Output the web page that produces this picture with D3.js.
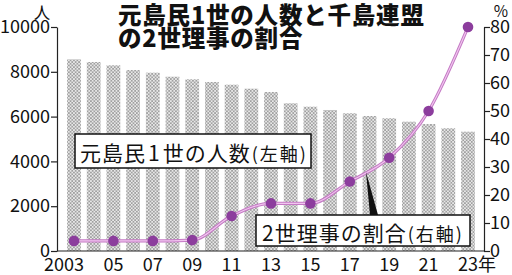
<!DOCTYPE html>
<html>
<head>
<meta charset="utf-8">
<script src="https://cdn.jsdelivr.net/npm/d3@7"></script>
<style>
  body { margin: 0; background: #fff; }
  svg { display: block; font-family: "Noto Sans CJK JP", sans-serif; }
  .axis text { font-size: 18px; fill: #111; font-family: "Noto Sans CJK JP", sans-serif; }
  .axis path, .axis line { stroke: #222; stroke-width: 1.2; }
</style>
</head>
<body>
<div id="main"></div>
<script>
// data
const years = d3.range(2003, 2024);
const islanders = [8558, 8438, 8290, 8080, 7960, 7781, 7665, 7545, 7424, 7246, 7098,
                   6594, 6442, 6295, 6147, 6027, 5924, 5772, 5670, 5478, 5326];
const ratioYears = [2003, 2005, 2007, 2009, 2011, 2013, 2015, 2017, 2019, 2021, 2023];
const ratio = [3.6, 3.6, 3.6, 3.9, 12.5, 17.0, 17.0, 24.8, 33.3, 50, 80];
const leftTicks = [0, 2000, 4000, 6000, 8000, 10000];
const rightTicks = [0, 10, 20, 30, 40, 50, 60, 70, 80];
const xLabels = ["2003", "05", "07", "09", "11", "13", "15", "17", "19", "21", "23年"];

const width = 512, height = 275;
const margin = {top: 27, bottom: 24, left: 57, right: 28};

let svg = d3.select("#main").append("svg")
    .attr("width", width)
    .attr("height", height);

// stipple fill for the bars
let pat = svg.append("defs").append("pattern")
    .attr("id", "dots")
    .attr("width", 3.4).attr("height", 3.4)
    .attr("patternUnits", "userSpaceOnUse");
pat.append("rect").attr("width", 3.4).attr("height", 3.4).attr("fill", "#e8e8e8");
pat.append("circle").attr("cx", 0.85).attr("cy", 0.85).attr("r", 0.8).attr("fill", "#808080");
pat.append("circle").attr("cx", 2.55).attr("cy", 2.55).attr("r", 0.8).attr("fill", "#808080");

const x = d3.scaleBand()
    .domain(years)
    .range([64.15, 477.85])
    .paddingInner(0.3)
    .paddingOuter(0.15);

const yLeft = d3.scaleLinear().domain([0, 10000]).range([height - margin.bottom, margin.top]);
const yRight = d3.scaleLinear().domain([0, 80]).range([height - margin.bottom, margin.top]);

const cx = d => x(d) + x.bandwidth() / 2;

//bars
svg.selectAll(".bar")
    .data(islanders)
    .enter().append("rect")
    .attr("class", "bar")
    .attr("x", (d, i) => x(years[i]))
    .attr("width", x.bandwidth())
    .attr("y", d => yLeft(d))
    .attr("height", d => yLeft(0) - yLeft(d))
    .attr("fill", "url(#dots)");

// label box 1
let box1 = svg.append("g");
box1.append("rect")
    .attr("x", 75).attr("y", 134).attr("width", 236).attr("height", 34)
    .attr("fill", "#fff").attr("stroke", "#111").attr("stroke-width", 1.5);
let t1 = box1.append("text").attr("x", 80).attr("y", 160.5).attr("fill", "#111");
t1.append("tspan").attr("font-size", 21).attr("letter-spacing", 1).text("元島民");
t1.append("tspan").attr("font-size", 21).attr("dx", 2).attr("letter-spacing", 3).text("1");
t1.append("tspan").attr("font-size", 21).attr("letter-spacing", 1).text("世の人数");
t1.append("tspan").attr("font-size", 18).attr("dx", 1).attr("letter-spacing", 2).text("(左軸)");

// ratio line
const line = d3.line()
    .x((d, i) => cx(ratioYears[i]))
    .y(d => yRight(d))
    .curve(d3.curveMonotoneX);

svg.append("path").datum(ratio)
    .attr("d", line).attr("fill", "none")
    .attr("stroke", "#c479c4").attr("stroke-width", 3.2);
svg.append("path").datum(ratio)
    .attr("d", line).attr("fill", "none")
    .attr("stroke", "#f1c6ef").attr("stroke-width", 1.1);

svg.selectAll(".dot")
    .data(ratio)
    .enter().append("circle")
    .attr("class", "dot")
    .attr("cx", (d, i) => cx(ratioYears[i]))
    .attr("cy", d => yRight(d))
    .attr("r", 5.3)
    .attr("fill", "#8c3d9d");

// pointer from box 2 to the line
svg.append("path")
    .attr("d", "M366,172 L370,215 L378,215 Z")
    .attr("fill", "#111");

// label box 2
let box2 = svg.append("g");
box2.append("rect")
    .attr("x", 256).attr("y", 215).attr("width", 214).attr("height", 31)
    .attr("fill", "#fff").attr("stroke", "#111").attr("stroke-width", 1.5);
let t2 = box2.append("text").attr("x", 262).attr("y", 240.5).attr("fill", "#111");
t2.append("tspan").attr("font-size", 21).attr("letter-spacing", 1).text("2世理事の割合");
t2.append("tspan").attr("font-size", 18).attr("dx", 1).attr("letter-spacing", 2).text("(右軸)");

//Add Y Axis left
svg.append("g")
    .attr("class", "axis")
    .attr("transform", "translate(" + margin.left + ",0)")
    .call(d3.axisLeft(yLeft).tickValues(leftTicks).tickSize(6).tickSizeOuter(0).tickPadding(1).tickFormat(d3.format("d")));

//Add Y Axis right
svg.append("g")
    .attr("class", "axis")
    .attr("transform", "translate(" + (width - margin.right) + ",0)")
    .call(d3.axisRight(yRight).tickValues(rightTicks).tickSize(6).tickSizeOuter(0).tickPadding(0));

// X axis
let xAxis = svg.append("g")
    .attr("class", "axis")
    .attr("transform", "translate(0," + (height - margin.bottom) + ")")
    .call(d3.axisBottom(x).tickValues(ratioYears).tickSize(0).tickPadding(3)
        .tickFormat((d, i) => xLabels[i]));
xAxis.select(".domain").attr("d", "M" + margin.left + ",0H" + (width - margin.right));
xAxis.selectAll("text")
    .attr("dy", "0.95em")
    .style("text-anchor", (d, i) => i === 0 ? "end" : (i === xLabels.length - 1 ? "start" : "middle"))
    .attr("dx", (d, i) => i === 0 ? "0.55em" : (i === xLabels.length - 1 ? "-0.55em" : 0));

// unit labels
svg.append("text").attr("x", 42).attr("y", 19).attr("text-anchor", "middle")
    .attr("font-size", 16.5).attr("fill", "#111").text("人");
svg.append("text").attr("x", 501).attr("y", 16.5).attr("text-anchor", "middle")
    .attr("font-size", 15.5).attr("fill", "#111").text("%");

// title
let title = svg.append("text").attr("x", 118).attr("font-size", 23.5)
    .attr("font-weight", 900).attr("fill", "#111").attr("letter-spacing", 0.8);
title.append("tspan").attr("x", 118).attr("y", 23.5).text("元島民1世の人数と千島連盟");
title.append("tspan").attr("x", 118).attr("y", 46.5).text("の2世理事の割合");
</script>
</body>
</html>
